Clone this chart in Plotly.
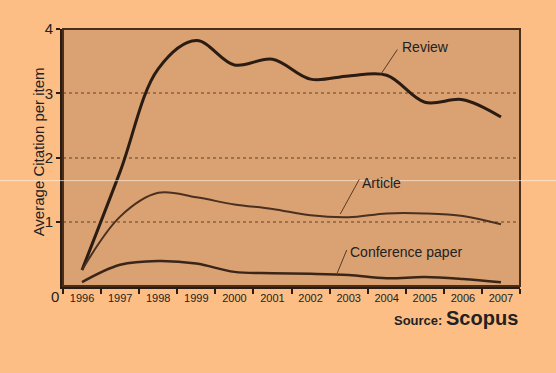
import plotly.graph_objects as go

years = ["1996", "1997", "1998", "1999", "2000", "2001", "2002", "2003", "2004", "2005", "2006", "2007"]
review = [0.25, 1.78, 3.38, 3.82, 3.44, 3.53, 3.22, 3.27, 3.28, 2.86, 2.90, 2.63]
article = [0.25, 1.08, 1.45, 1.38, 1.27, 1.20, 1.10, 1.07, 1.13, 1.13, 1.09, 0.96]
conference = [0.06, 0.33, 0.39, 0.35, 0.22, 0.20, 0.19, 0.17, 0.12, 0.14, 0.11, 0.06]
yticks = [1, 2, 3, 4]

OUTER = "#FDBE86"
PLOT = "#DAA172"
INK = "#2a1c12"
FONT = "Liberation Sans, Arial, sans-serif"

fig = go.Figure()
fig.add_trace(go.Scatter(x=years, y=review, mode="lines", line=dict(shape="spline", smoothing=1.0, color=INK, width=3)))
fig.add_trace(go.Scatter(x=years, y=article, mode="lines", line=dict(shape="spline", smoothing=1.0, color="#4a3020", width=2)))
fig.add_trace(go.Scatter(x=years, y=conference, mode="lines", line=dict(shape="spline", smoothing=1.0, color="#3a2618", width=2.5)))

fig.update_layout(
    width=556, height=373,
    paper_bgcolor=OUTER, plot_bgcolor=PLOT,
    margin=dict(l=63, r=36, t=29, b=87),
    showlegend=False,
    font=dict(family=FONT, color="#222"),
    xaxis=dict(
        type="category", range=[-0.5, 11.5], tickson="boundaries", automargin=False,
        showline=True, linewidth=3, linecolor=INK,
        ticks="outside", ticklen=5, tickwidth=2, tickcolor=INK,
        tickfont=dict(size=11, color="#222"), showgrid=False, zeroline=False,
    ),
    yaxis=dict(
        range=[0, 4], tickvals=yticks, ticktext=[str(v) for v in yticks], automargin=False,
        showline=True, linewidth=3, linecolor=INK,
        ticks="outside", ticklen=4, tickwidth=2, tickcolor=INK,
        tickfont=dict(size=15, color="#222"),
        showgrid=True, gridcolor="#a0704a", griddash="dot", gridwidth=1.5, zeroline=False,
    ),
)

# y axis title
fig.add_annotation(text="Average Citation per item", xref="paper", yref="paper", x=-0.0547, y=0.52,
                   textangle=-90, showarrow=False, xanchor="center", yanchor="middle",
                   font=dict(size=15, color="#222"))

# top and right frame
fig.add_shape(type="rect", xref="paper", yref="paper", x0=0, x1=1, y0=0, y1=1,
              line=dict(color="#4a2e1a", width=2), layer="above")

# scan line artifact
fig.add_shape(type="line", xref="paper", yref="paper", x0=-0.2, x1=1.1, y0=0.41, y1=0.41,
              line=dict(color="rgba(255,240,225,0.7)", width=1), layer="above")

# "0" tick label
fig.add_annotation(text="0", xref="paper", yref="y", x=0, y=0, xanchor="right", yanchor="top",
                   xshift=-2, yshift=0, showarrow=False, font=dict(size=15, color="#222"))

# labels with leader lines
labels = [("Review", 8.35, 3.72, 7.85, 3.30, 8.28, 3.68),
          ("Article", 7.30, 1.60, 6.78, 1.12, 7.28, 1.66),
          ("Conference paper", 6.98, 0.53, 6.70, 0.20, 6.95, 0.56)]
for text, tx, ty, x0, y0, x1, y1 in labels:
    fig.add_annotation(text=text, x=tx, y=ty, xref="x", yref="y", xanchor="left", yanchor="middle",
                       showarrow=False, font=dict(size=14, color="#222"))
    fig.add_shape(type="line", xref="x", yref="y", x0=x0, y0=y0, x1=x1, y1=y1,
                  line=dict(color="#5a3a22", width=1))

fig.add_annotation(text="<b>Source: <span style='font-size:20px'>Scopus</span></b>",
                   xref="paper", yref="paper", x=1, y=-0.125, xanchor="right", yanchor="middle",
                   showarrow=False, font=dict(size=13, color="#222"))

fig.write_html("out.html", config={"displayModeBar": False},
               post_script="document.body.style.margin='0';document.body.style.background='%s';" % OUTER)
